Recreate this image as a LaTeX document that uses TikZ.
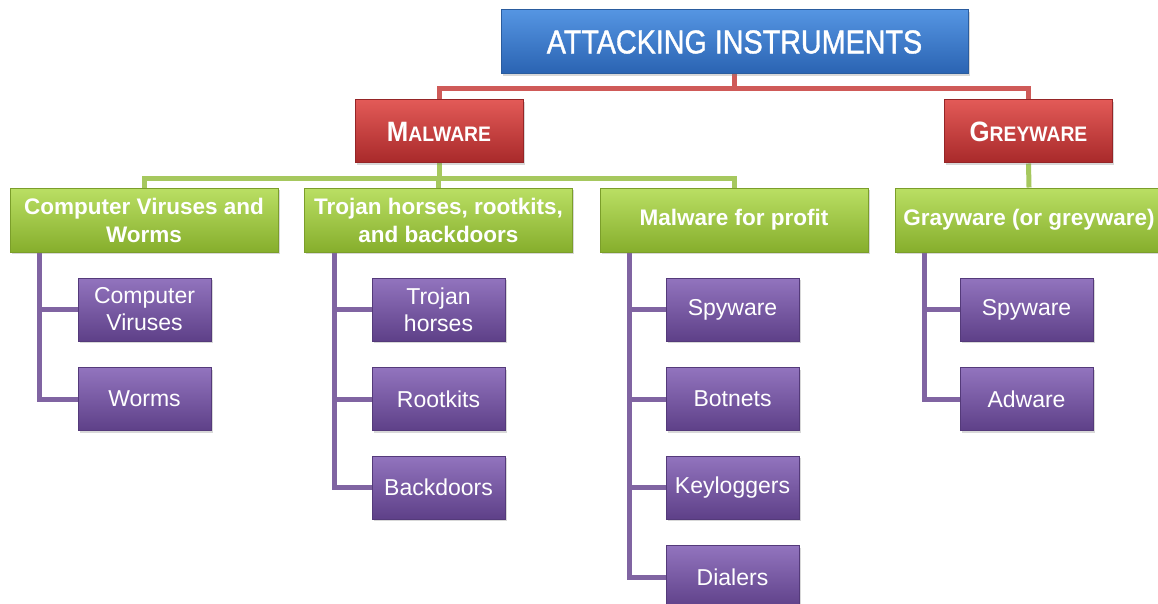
\documentclass[tikz,border=0pt]{standalone}
\usepackage{fontspec}
\setmainfont{Liberation Sans}
\newfontfamily\topfont[FakeStretch=0.87,FakeBold=1.2]{Liberation Sans}
\newfontfamily\capfont[FakeStretch=0.92]{Liberation Sans}
\usetikzlibrary{shadows,backgrounds}
\pgfdeclarelayer{paper}
\pgfsetlayers{paper,background,main}
\definecolor{blueT}{HTML}{5595E2}
\definecolor{blueB}{HTML}{2A63B2}
\definecolor{blueD}{HTML}{2A5C9E}
\definecolor{redT}{HTML}{E25A57}
\definecolor{redB}{HTML}{A8292A}
\definecolor{redD}{HTML}{952527}
\definecolor{greenT}{HTML}{BADF64}
\definecolor{greenB}{HTML}{86AE2C}
\definecolor{greenD}{HTML}{7B9E2A}
\definecolor{purT}{HTML}{9274BE}
\definecolor{purB}{HTML}{5E4088}
\definecolor{purD}{HTML}{543A7A}
\definecolor{redL}{HTML}{CF5A58}
\definecolor{greenL}{HTML}{A6C85E}
\definecolor{purL}{HTML}{8064A2}
\tikzset{
  box/.style={draw, line width=1pt, inner sep=0pt, align=center, text=white,
    drop shadow={shadow xshift=1.5pt, shadow yshift=-2pt, opacity=0.3}},
  topbox/.style={box, minimum width=467pt, minimum height=64pt,
    top color=blueT, bottom color=blueB, draw=blueD,
    font=\topfont\fontsize{33}{36}\selectfont},
  redbox/.style={box, minimum width=168pt, minimum height=63pt,
    top color=redT, bottom color=redB, draw=redD},
  greenbox/.style={box, minimum width=268pt, minimum height=64pt,
    top color=greenT, bottom color=greenB, draw=greenD,
    font=\bfseries\fontsize{22.5}{28}\selectfont},
  purbox/.style={box, minimum width=133pt, minimum height=63pt,
    top color=purT, bottom color=purB, draw=purD,
    font=\fontsize{23}{27}\selectfont},
  redline/.style={draw=redL, line width=5pt},
  greenline/.style={draw=greenL, line width=5pt},
  purline/.style={draw=purL, line width=5pt},
}
\begin{document}
\begin{tikzpicture}[x=1pt, y=-1pt]
\useasboundingbox (0,0) rectangle (1158,604);
\begin{pgfonlayer}{paper}
\fill[white] (0,0) rectangle (1158,604);
\end{pgfonlayer}
% top level
\node[topbox] (top) at (734.5,42) {ATTACKING INSTRUMENTS};
\node[redbox] (mal) at (439,131.5) {\capfont\bfseries\fontsize{28}{30}\selectfont M\fontsize{21}{24}\selectfont ALWARE};
\node[redbox] (grey) at (1028.5,131.5) {\capfont\bfseries\fontsize{28}{30}\selectfont G\fontsize{21}{24}\selectfont REYWARE};
% green level
\node[greenbox] (g1) at (144,220) {Computer Viruses and\\Worms};
\node[greenbox] (g2) at (438.5,220) {Trojan horses, rootkits,\\and backdoors};
\node[greenbox] (g3) at (734,220) {Malware for profit};
\node[greenbox] (g4) at (1029,220) {Grayware (or greyware)};
% purple level
\node[purbox] (p11) at (144.5,309.5) {Computer\\Viruses};
\node[purbox] (p12) at (144.5,399) {Worms};
\node[purbox] (p21) at (438.5,309.5) {Trojan\\horses};
\node[purbox] (p22) at (438.5,399) {Rootkits};
\node[purbox] (p23) at (438.5,487.5) {Backdoors};
\node[purbox] (p31) at (732.5,309.5) {Spyware};
\node[purbox] (p32) at (732.5,399) {Botnets};
\node[purbox] (p33) at (732.5,487.5) {Keyloggers};
\node[purbox] (p34) at (732.5,577) {Dialers};
\node[purbox] (p41) at (1026.5,309.5) {Spyware};
\node[purbox] (p42) at (1026.5,399) {Adware};
% connectors
\begin{scope}[on background layer]
\draw[redline] (top.south) -- ++(0,14) -| (mal.north);
\draw[redline] (top.south) -- ++(0,14) -| (grey.north);
\draw[greenline] (mal.south) -- ++(0,15) -| (g1.north);
\draw[greenline] (mal.south) -- ++(0,15) -| (g2.north);
\draw[greenline] (mal.south) -- ++(0,15) -| (g3.north);
\draw[greenline] (grey.south) -- (g4.north);
\draw[purline] ([xshift=30pt]g1.south west) |- (p11.west);
\draw[purline] ([xshift=30pt]g1.south west) |- (p12.west);
\draw[purline] ([xshift=30pt]g2.south west) |- (p21.west);
\draw[purline] ([xshift=30pt]g2.south west) |- (p22.west);
\draw[purline] ([xshift=30pt]g2.south west) |- (p23.west);
\draw[purline] ([xshift=30pt]g3.south west) |- (p31.west);
\draw[purline] ([xshift=30pt]g3.south west) |- (p32.west);
\draw[purline] ([xshift=30pt]g3.south west) |- (p33.west);
\draw[purline] ([xshift=30pt]g3.south west) |- (p34.west);
\draw[purline] ([xshift=30pt]g4.south west) |- (p41.west);
\draw[purline] ([xshift=30pt]g4.south west) |- (p42.west);
\end{scope}
\end{tikzpicture}
\end{document}
